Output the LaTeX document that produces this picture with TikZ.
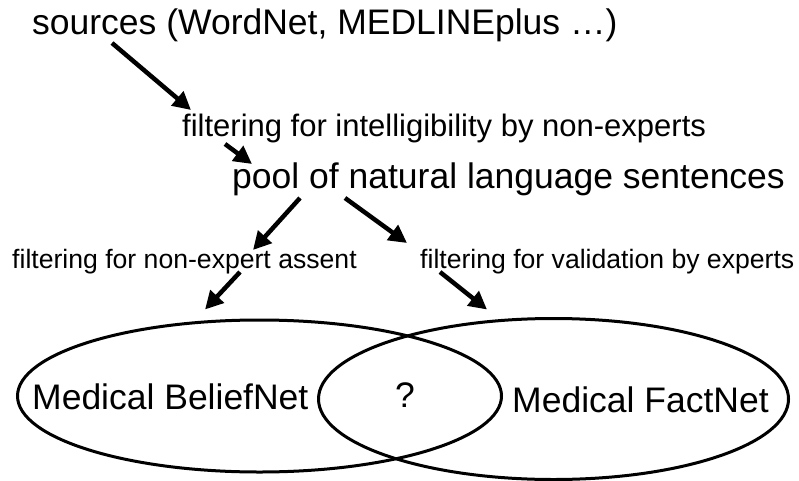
\documentclass[tikz,border=0pt]{standalone}
\usepackage{fontspec}
\setmainfont{Liberation Sans}
\usetikzlibrary{arrows.meta,calc,shapes.geometric}

\tikzset{
  big/.style={font=\fontsize{35.5}{40}\selectfont, inner sep=0pt, anchor=base west},
  mid/.style={font=\fontsize{31}{36}\selectfont, inner sep=0pt, anchor=base west},
  small/.style={font=\fontsize{26.6}{30}\selectfont, inner sep=0pt, anchor=base west},
  arr/.style={-{Triangle[length=18pt,width=18pt]}, line width=4.5pt},
  net/.style={ellipse, draw, line width=3pt, inner sep=0pt}
}

\begin{document}
\begin{tikzpicture}[x=1pt,y=-1pt]
      \useasboundingbox (0,0) rectangle (799,481);
      % sources
      \node[big] (src) at (32,35) {sources (WordNet, MEDLINEplus …)};
      \node[mid] (intel) at (182,137) {filtering for intelligibility by non-experts};
      \node[big] (pool) at (232,188) {pool of natural language sentences};
      % filters
      \node[small] (assent) at (12,268) {filtering for non-expert assent};
      \node[small] (valid) at (420,268) {filtering for validation by experts};
      % nets
      \node[net, minimum width=484pt, minimum height=152pt] (belief) at (259.5,396) {};
      \node[net, minimum width=470pt, minimum height=161pt] (fact) at (553.5,399) {};
      \node[big] (beliefname) at (32,409) {Medical BeliefNet};
      \node[big] (both) at (395,407) {?};
      \node[big] (factname) at (512,412) {Medical FactNet};
      % arrows
      \draw[arr] ($(src.base west)+(80,8)$) -- ($(intel.base west)+(9,-27)$);
      \draw[arr] ($(intel.base west)+(43,7)$) -- ($(pool.base west)+(20,-24)$);
      \draw[arr] ($(pool.base west)+(68,10)$) -- ($(assent.base west)+(241,-18)$);
      \draw[arr] ($(pool.base west)+(113,10)$) -- ($(valid.base west)+(-13,-25)$);
      \draw[arr] ($(assent.base west)+(228,4)$) -- ($(belief.north)+(-54.5,-9)$);
      \draw[arr] ($(valid.base west)+(20,4)$) -- ($(fact.north)+(-66.5,-7.5)$);
\end{tikzpicture}
\end{document}
